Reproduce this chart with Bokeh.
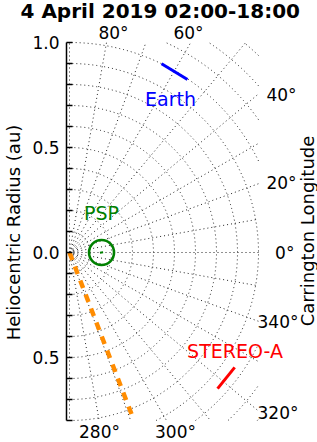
import numpy as np
from bokeh.plotting import figure
from bokeh.models import Range1d, FixedTicker, Label, CustomJSTickFormatter
from bokeh.embed import file_html
from bokeh.resources import INLINE

# ---------------- data ----------------
title_text = "4 April 2019 02:00-18:00"
radius_major_ticks = [-0.5, 0.0, 0.5, 1.0]
radius_minor_ticks = [-0.8, -0.7, -0.6, -0.4, -0.3, -0.2, -0.1,
                      0.1, 0.2, 0.3, 0.4, 0.6, 0.7, 0.8, 0.9]
grid_radii = [0.1, 0.2, 0.3, 0.4, 0.5, 0.6, 0.7, 0.8, 0.9, 1.0, 1.1, 1.2, 1.3]
grid_lons = [-90, -80, -70, -60, -50, -40, -30, -20, -10, 0,
             10, 20, 30, 40, 50, 60, 70, 80, 90]
top_lon_labels = ["80°", "60°"]
right_lon_labels = ["40°", "20°", "0°", "340°", "320°"]
bottom_lon_labels = ["280°", "300°"]

earth_lon = [64.0, 55.7]
earth_r = [1.0, 0.997]
stereo_lon = [325.2, 317.4]
stereo_r = [0.958, 0.958]
psp_lon = [0.3, -0.3]
psp_r = [0.160, 0.145]
fieldline_lon = [291.0, 291.0]

# ---------------- layout ----------------
S = 210.0                     # px per au
XB0, XB1 = -3 / S, 0.9        # plotted box (au)
YB0, YB1 = -0.8, 1.0
W, H = 317, 442
LEFT = 65                     # left panel (y axis)
TOP = 22                      # title panel
BOX_TOP = 42                  # page y of the 1.0 au line
frame_w = W - LEFT
frame_h = H - TOP
y_end = YB1 + (BOX_TOP - TOP) / S

top_label_x = [0.2095, 0.5667]
top_label_y = 1.0476
right_label_x = [1.081, 1.081, 1.071, 1.0905, 1.0905]
right_label_y = [0.748, 0.329, 0.0, -0.333, -0.762]
bottom_label_x = [0.1429, 0.5048]
bottom_label_y = -0.8524


def polar(r, lon):
    a = np.radians(np.asarray(lon, dtype=float))
    r = np.asarray(r, dtype=float)
    return r * np.cos(a), r * np.sin(a)


def ray_len(a):
    c, s = np.cos(a), np.sin(a)
    t = 10.0
    if c > 1e-9:
        t = min(t, XB1 / c)
    if s > 1e-9:
        t = min(t, YB1 / s)
    if s < -1e-9:
        t = min(t, YB0 / s)
    return t


def arc_pieces(r):
    lo = -np.pi / 2 if YB0 / r <= -1 else np.arcsin(YB0 / r)
    hi = np.pi / 2 if YB1 / r >= 1 else np.arcsin(YB1 / r)
    pieces = []
    if XB1 / r >= 1:
        pieces.append((lo, hi))
    else:
        c = np.arccos(XB1 / r)
        if lo < -c:
            pieces.append((lo, min(-c, hi)))
        if hi > c:
            pieces.append((max(c, lo), hi))
    return [pc for pc in pieces if pc[1] > pc[0]]


p = figure(frame_width=frame_w, frame_height=frame_h,
           x_range=Range1d(XB0, XB0 + frame_w / S),
           y_range=Range1d(y_end - frame_h / S, y_end),
           output_backend="svg", toolbar_location=None,
           x_axis_location=None, y_axis_location="left",
           min_border_left=LEFT, min_border_right=0,
           min_border_top=TOP, min_border_bottom=0)
p.outline_line_color = None
p.grid.visible = False
p.background_fill_color = "white"
p.border_fill_color = "white"

p.title.text = title_text
p.title.text_font = "DejaVu Sans"
p.title.text_font_size = "20px"
p.title.text_font_style = "bold"
p.title.text_color = "black"
p.title.align = "left"
p.title.vertical_align = "top"
p.title.offset = -46
p.title.standoff = -4

ax = p.yaxis[0]
ax.bounds = (YB0, YB1)
ax.ticker = FixedTicker(ticks=radius_major_ticks, minor_ticks=radius_minor_ticks)
ax.formatter = CustomJSTickFormatter(code="return Math.abs(tick).toFixed(1);")
ax.major_label_text_font = "DejaVu Sans"
ax.major_label_text_font_size = "17px"
ax.major_label_text_color = "black"
ax.major_label_standoff = 7
ax.axis_label = "Heliocentric Radius (au)"
ax.axis_label_text_font = "DejaVu Sans"
ax.axis_label_text_font_size = "18px"
ax.axis_label_text_font_style = "normal"
ax.axis_label_text_color = "black"
ax.axis_label_standoff = 5
ax.axis_line_width = 1.5
ax.axis_line_color = "black"
ax.major_tick_in = 6
ax.major_tick_out = 0
ax.minor_tick_in = 6
ax.minor_tick_out = 0
ax.major_tick_line_width = 1.5
ax.minor_tick_line_width = 1.5
ax.major_tick_line_color = "black"
ax.minor_tick_line_color = "black"

# grid: circles (clipped to the box) and radial lines
gx, gy = [], []
for r in grid_radii:
    for a0, a1 in arc_pieces(r):
        th = np.linspace(a0, a1, max(2, int(np.degrees(a1 - a0) * 4)))
        gx.append(list(r * np.cos(th)))
        gy.append(list(r * np.sin(th)))
for lon in grid_lons:
    a = np.radians(lon)
    L = ray_len(a)
    gx.append([0.0, L * np.cos(a)])
    gy.append([0.0, L * np.sin(a)])
p.multi_line(gx, gy, line_color="#222222", line_width=1, line_dash="1 3")

# field line (orange dashed), from the Sun to the edge of the box
fl_r = [0.0, ray_len(np.radians(fieldline_lon[1]))]
fx, fy = polar(fl_r, fieldline_lon)
p.line(fx, fy, line_color="#ff8c00", line_width=4.5, line_dash="8 7")

# Earth
ex, ey = polar(earth_r, earth_lon)
p.line(ex, ey, line_color="blue", line_width=3)

# STEREO-A
sx, sy = polar(stereo_r, stereo_lon)
p.line(sx, sy, line_color="red", line_width=3)

# PSP
px_, py_ = polar(psp_r, psp_lon)
p.line(px_, py_, line_color="green", line_width=2)
p.scatter([float(np.mean(px_))], [float(np.mean(py_))], marker="circle", size=25,
          fill_color=None, line_color="green", line_width=2.6)


def add_label(x, y, text, size, color="black", angle=0.0, align="center"):
    p.add_layout(Label(x=x, y=y, text=text, text_font="DejaVu Sans",
                       text_font_size=size, text_color=color,
                       text_align=align, text_baseline="middle",
                       angle=angle))


for t, lx in zip(top_lon_labels, top_label_x):
    add_label(lx, top_label_y, t, "17px")
for t, lx, ly in zip(right_lon_labels, right_label_x, right_label_y):
    add_label(lx, ly, t, "17px", align="right")
for t, lx in zip(bottom_lon_labels, bottom_label_x):
    add_label(lx, bottom_label_y, t, "17px")

add_label(XB0 + (306 - LEFT) / S, 0.1024, "Carrington Longitude", "18px",
          angle=np.pi / 2)
add_label(0.481, 0.733, "Earth", "19px", color="blue")
add_label(0.152, 0.186, "PSP", "19px", color="green")
add_label(0.788, -0.469, "STEREO-A", "19px", color="red")

open("out.html", "w").write(file_html(p, INLINE))
